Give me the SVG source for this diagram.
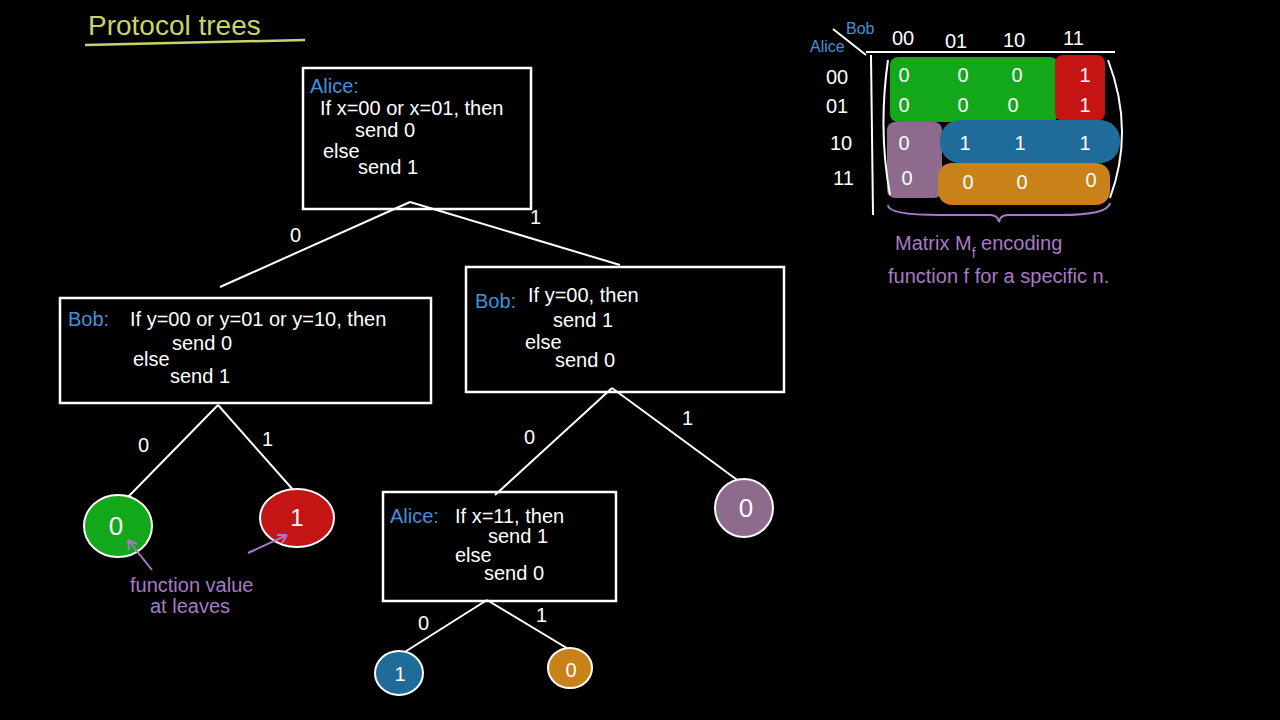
<svg xmlns="http://www.w3.org/2000/svg" width="1280" height="720" viewBox="0 0 1280 720">
<style>
text{font-family:"Liberation Sans","DejaVu Sans",sans-serif;fill:#fff;font-size:20px}
.b{fill:#3d94dd}
.p{fill:#a87ac4}
.box{fill:none;stroke:#fff;stroke-width:2.5}
.e{stroke:#fff;stroke-width:2;fill:none}
.c{text-anchor:middle}
</style>
<rect width="1280" height="720" fill="#000"/>
<text x="88" y="35" style="fill:#c9d36a;font-size:28px">Protocol trees</text>
<path d="M85 45 Q200 42 305 40" stroke="#c9d36a" stroke-width="2.5" fill="none"/>
<g id="connectors">
<path class="e" d="M410 202 L220 287 M410 202 L620 265"/>
<text x="290" y="242">0</text><text x="530" y="224">1</text>
<path class="e" d="M218 405 L128 497 M218 405 L295 492"/>
<text x="138" y="452">0</text><text x="262" y="446">1</text>
<path class="e" d="M612 388 L495 495 M612 388 L740 482"/>
<text x="524" y="444">0</text><text x="682" y="425">1</text>
<path class="e" d="M487 600 L400 655 M487 600 L570 650"/>
<text x="418" y="630">0</text><text x="536" y="622">1</text>
</g>
<g id="root"><rect class="box" x="303" y="68" width="228" height="141"/>
<text class="b" x="310" y="93">Alice:</text><text x="320" y="115">If x=00 or x=01, then</text>
<text x="355" y="137">send 0</text><text x="323" y="158">else</text><text x="358" y="174">send 1</text></g>
<g id="bobL"><rect class="box" x="60" y="298" width="371" height="105"/>
<text class="b" x="68" y="326">Bob:</text><text x="130" y="326">If y=00 or y=01 or y=10, then</text>
<text x="172" y="350">send 0</text><text x="133" y="366">else</text><text x="170" y="383">send 1</text></g>
<g id="bobR"><rect class="box" x="466" y="267" width="318" height="125"/>
<text class="b" x="475" y="308">Bob:</text><text x="528" y="302">If y=00, then</text>
<text x="553" y="327">send 1</text><text x="525" y="349">else</text><text x="555" y="367">send 0</text></g>
<g id="aliceB"><rect class="box" x="383" y="492" width="233" height="109"/>
<text class="b" x="390" y="523">Alice:</text><text x="455" y="523">If x=11, then</text>
<text x="488" y="543">send 1</text><text x="455" y="562">else</text><text x="484" y="580">send 0</text></g>
<g id="leafG"><ellipse cx="118" cy="526" rx="34" ry="31" fill="#12a81a" stroke="#fff" stroke-width="2"/><text class="c" x="116" y="535" style="font-size:26px">0</text></g>
<g id="leafR"><ellipse cx="297" cy="518" rx="37" ry="29" fill="#c41414" stroke="#fff" stroke-width="2"/><text class="c" x="297" y="526" style="font-size:24px">1</text></g>
<g id="leafP"><circle cx="744" cy="508" r="29" fill="#8e6a8c" stroke="#fff" stroke-width="2"/><text class="c" x="746" y="517" style="font-size:26px">0</text></g>
<g id="leafB"><ellipse cx="399" cy="673" rx="24" ry="22" fill="#1f6b9a" stroke="#fff" stroke-width="2"/><text class="c" x="400" y="681">1</text></g>
<g id="leafO"><ellipse cx="570" cy="668" rx="22" ry="20" fill="#c9821a" stroke="#fff" stroke-width="2"/><text class="c" x="571" y="677">0</text></g>
<path d="M152 570 L128 540 M128 540 l1 10 M128 540 l9 4 M248 553 L287 535 M287 535 l-10 0 M287 535 l-5 8" stroke="#a87ac4" stroke-width="2" fill="none"/>
<text class="p" x="130" y="592">function value</text>
<text class="p" x="150" y="613">at leaves</text>
<g id="matrix">
<rect x="890" y="57" width="168" height="65" rx="8" fill="#12a81a"/>
<rect x="1055" y="55" width="50" height="66" rx="8" fill="#c41414"/>
<rect x="887" y="122" width="55" height="76" rx="8" fill="#8e6a8c"/>
<rect x="940" y="120" width="180" height="43" rx="20" fill="#1f6b9a"/>
<rect x="938" y="163" width="172" height="42" rx="14" fill="#c9821a"/>
<text class="b" x="846" y="34" style="font-size:16px">Bob</text>
<text class="b" x="810" y="52" style="font-size:16px">Alice</text>
<path class="e" d="M833 29 L866 55 M866 52 L1115 52 M871 55 L873 215 M888 60 Q878 130 890 195 M1108 60 Q1135 130 1110 198"/>
<path d="M888 205 Q888 215 940 215 L990 215 Q998 215 999 222 Q1000 215 1008 215 L1060 215 Q1108 215 1110 203" stroke="#a87ac4" stroke-width="2" fill="none"/>
<g style="font-size:19px"><text x="892" y="45">00</text><text x="945" y="48">01</text><text x="1003" y="47">10</text><text x="1063" y="45">11</text>
<text x="826" y="84">00</text><text x="826" y="113">01</text><text x="830" y="150">10</text><text x="833" y="185">11</text></g>
<g class="c" style="font-size:20px"><text x="904" y="82">0</text><text x="963" y="82">0</text><text x="1017" y="82">0</text><text x="1085" y="82">1</text>
<text x="904" y="112">0</text><text x="963" y="112">0</text><text x="1013" y="112">0</text><text x="1085" y="112">1</text>
<text x="904" y="150">0</text><text x="965" y="150">1</text><text x="1020" y="150">1</text><text x="1085" y="150">1</text>
<text x="907" y="185">0</text><text x="968" y="189">0</text><text x="1022" y="189">0</text><text x="1091" y="187">0</text></g>
</g>
<text class="p" x="895" y="250">Matrix M<tspan dy="8" style="font-size:14px">f</tspan><tspan dy="-8"> encoding</tspan></text>
<text class="p" x="888" y="283">function f for a specific n.</text>
</svg>
